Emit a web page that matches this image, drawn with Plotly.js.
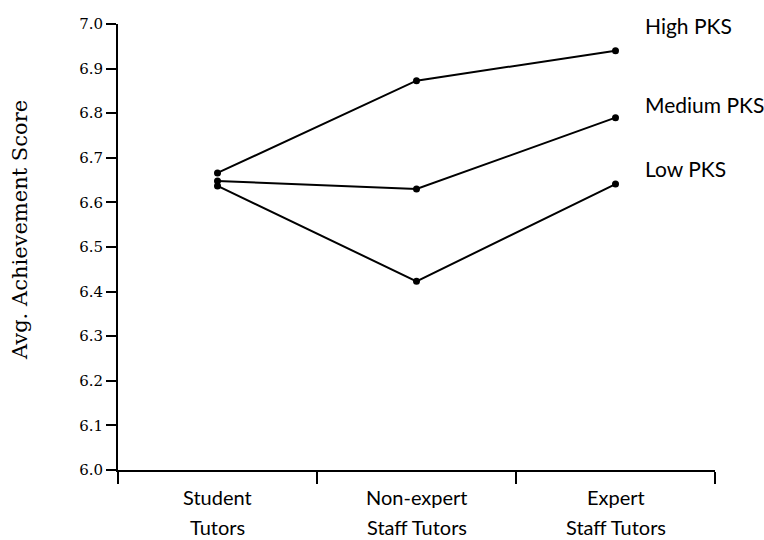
<!DOCTYPE html>
<html>
<head>
<meta charset="utf-8">
<script src="https://cdn.plot.ly/plotly-3.0.1.min.js"></script>
<style>html,body{margin:0;padding:0;background:#fff;}#chart{width:764px;height:540px;}</style>
</head>
<body>
<div id="chart"></div>
<script>
const categories = ["Student Tutors", "Non-expert Staff Tutors", "Expert Staff Tutors"];
const catLine1 = ["Student", "Non-expert", "Expert"];
const catLine2 = ["Tutors", "Staff Tutors", "Staff Tutors"];
const seriesNames = ["High PKS", "Medium PKS", "Low PKS"];
const highPKS = [6.666, 6.873, 6.940];
const mediumPKS = [6.648, 6.630, 6.790];
const lowPKS = [6.637, 6.423, 6.641];
const yTicks = [6.0, 6.1, 6.2, 6.3, 6.4, 6.5, 6.6, 6.7, 6.8, 6.9, 7.0];
const yTitle = "Avg. Achievement Score";

const allSeries = [highPKS, mediumPKS, lowPKS];
const traces = allSeries.map((vals, i) => ({
  type: "scatter",
  mode: "lines+markers",
  name: seriesNames[i],
  x: categories,
  y: vals,
  line: {color: "#000", width: 2},
  marker: {color: "#000", size: 7},
  cliponaxis: false
}));

const serifFont = "DejaVu Serif";
const sansFont = "Lato";

const annotations = [];
categories.forEach((c, i) => {
  annotations.push({xref: "x", yref: "paper", x: c, y: 0, yanchor: "middle", yshift: -27, text: catLine1[i], showarrow: false, font: {family: sansFont, size: 20, color: "#000"}});
  annotations.push({xref: "x", yref: "paper", x: c, y: 0, yanchor: "middle", yshift: -57, text: catLine2[i], showarrow: false, font: {family: sansFont, size: 20, color: "#000"}});
});
const labelY = [25, 105, 168];
seriesNames.forEach((n, i) => {
  annotations.push({xref: "paper", yref: "paper", x: (643 - 118) / (715 - 118), xanchor: "left", y: 1 - (labelY[i] - 24) / 446, yanchor: "middle", text: n, showarrow: false, font: {family: sansFont, size: 21, color: "#000"}});
});
annotations.push({xref: "paper", yref: "paper", x: (20 - 118) / (715 - 118), xanchor: "center", y: 1 - (230 - 24) / 446, yanchor: "middle", textangle: -90, text: yTitle, showarrow: false, font: {family: serifFont, size: 21, color: "#000"}});

const layout = {
  width: 764, height: 540,
  margin: {l: 118, r: 49, t: 24, b: 70},
  paper_bgcolor: "#fff", plot_bgcolor: "#fff",
  font: {family: serifFont, color: "#000"},
  showlegend: false,
  xaxis: {
    type: "category",
    range: [-0.5, 2.5],
    showgrid: false, zeroline: false,
    showline: true, linecolor: "#000", linewidth: 2,
    ticks: "outside", tickson: "boundaries", ticklen: 12, tickwidth: 2, tickcolor: "#000",
    showticklabels: false
  },
  yaxis: {
    range: [6.0, 7.0],
    tickvals: yTicks,
    ticktext: yTicks.map(v => v.toFixed(1)),
    showgrid: false, zeroline: false,
    showline: true, linecolor: "#000", linewidth: 2,
    ticks: "outside", ticklen: 10, tickwidth: 2, tickcolor: "#000",
    tickfont: {family: serifFont, size: 15, color: "#000"}
  },
  annotations: annotations
};

Plotly.newPlot("chart", traces, layout, {displayModeBar: false, staticPlot: true});
</script>
</body>
</html>
